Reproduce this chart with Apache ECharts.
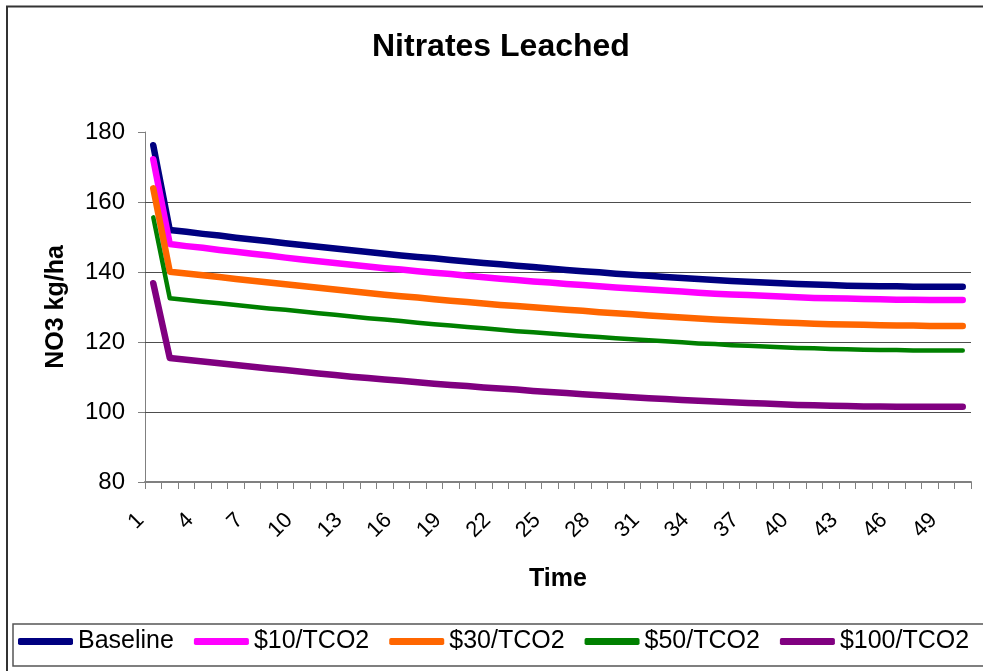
<!DOCTYPE html>
<html>
<head>
<meta charset="utf-8">
<script src="https://cdn.jsdelivr.net/npm/echarts@6/dist/echarts.min.js"></script>
<style>
html,body{margin:0;padding:0;background:#fff;overflow:hidden;}
#chart{width:983px;height:671px;}
</style>
</head>
<body>
<div id="chart"></div>
<script>
var categories = [];
for (var i = 1; i <= 50; i++) categories.push(String(i));

var seriesNames = ['Baseline', '$10/TCO2', '$30/TCO2', '$50/TCO2', '$100/TCO2'];

var baseline = [176.2,152.0,151.5,150.9,150.4,149.8,149.3,148.8,148.2,147.7,
  147.2,146.7,146.2,145.7,145.2,144.7,144.3,143.9,143.4,143.0,
  142.6,142.2,141.8,141.4,141.0,140.6,140.2,139.9,139.5,139.2,
  138.9,138.6,138.3,138.0,137.7,137.4,137.2,137.0,136.8,136.6,
  136.4,136.3,136.1,136.0,135.9,135.9,135.8,135.8,135.8,135.8];

var tco2_10 = [172.2,148.0,147.4,146.9,146.3,145.8,145.2,144.7,144.1,143.6,
  143.1,142.6,142.1,141.6,141.1,140.7,140.2,139.8,139.4,138.9,
  138.5,138.1,137.7,137.3,137.0,136.6,136.3,135.9,135.6,135.3,
  135.0,134.7,134.4,134.1,133.8,133.6,133.4,133.2,133.0,132.8,
  132.6,132.5,132.4,132.3,132.2,132.1,132.1,132.0,132.0,132.0];

var tco2_30 = [163.9,140.1,139.6,139.1,138.6,138.0,137.5,137.0,136.5,136.0,
  135.5,135.0,134.5,134.0,133.5,133.1,132.7,132.2,131.8,131.4,
  131.0,130.6,130.3,129.9,129.6,129.2,128.9,128.5,128.2,127.9,
  127.6,127.3,127.0,126.7,126.4,126.2,126.0,125.8,125.6,125.4,
  125.2,125.1,125.0,124.9,124.8,124.7,124.7,124.6,124.6,124.6];

var tco2_50 = [155.6,132.5,132.0,131.5,131.1,130.6,130.1,129.6,129.2,128.7,
  128.2,127.8,127.3,126.8,126.4,126.0,125.5,125.1,124.7,124.3,
  123.9,123.5,123.1,122.8,122.4,122.1,121.7,121.4,121.1,120.8,
  120.5,120.2,119.9,119.6,119.4,119.1,118.9,118.7,118.5,118.3,
  118.2,118.0,117.9,117.8,117.7,117.7,117.6,117.6,117.6,117.6];

var tco2_100 = [136.8,115.4,114.9,114.4,113.9,113.4,112.9,112.4,112.0,111.5,
  111.0,110.6,110.1,109.7,109.3,108.9,108.5,108.1,107.7,107.4,
  107.0,106.7,106.4,106.0,105.7,105.4,105.1,104.8,104.5,104.2,
  103.9,103.7,103.4,103.2,103.0,102.8,102.6,102.4,102.2,102.0,
  101.9,101.8,101.7,101.6,101.6,101.5,101.5,101.5,101.5,101.5];

var gridValues = [100, 120, 140, 160];

var seriesData = [baseline, tco2_10, tco2_30, tco2_50, tco2_100];
var colors = ['#000080', '#FF00FF', '#FF6600', '#008000', '#800080'];
var widths = [6.5, 6.5, 6.5, 4.5, 6.5];

var FONT = '"Liberation Sans", Arial, sans-serif';

var chart = echarts.init(document.getElementById('chart'), null, {renderer: 'canvas'});

var series = seriesNames.map(function (name, k) {
  var s = {
    name: name,
    type: 'line',
    data: seriesData[k],
    symbol: 'none',
    showSymbol: false,
    smooth: false,
    animation: false,
    z: 3 + k,
    lineStyle: {color: colors[k], width: widths[k], cap: 'round', join: 'round'},
    itemStyle: {color: colors[k]}
  };
  if (k === 0) {
    s.markLine = {
      silent: true,
      animation: false,
      symbol: ['none', 'none'],
      label: {show: false},
      lineStyle: {color: '#4d4d4d', width: 1, type: 'solid'},
      emphasis: {disabled: true},
      data: gridValues.map(function (v) { return {yAxis: v}; }),
      z: 1
    };
  }
  return s;
});

chart.setOption({
  backgroundColor: '#ffffff',
  animation: false,
  color: colors,
  title: {
    text: 'Nitrates Leached',
    left: 372,
    top: 31,
    padding: 0,
    textStyle: {fontFamily: FONT, fontSize: 32, fontWeight: 'bold', color: '#000'}
  },
  legend: {
    left: 18,
    top: 629,
    width: 975,
    padding: 0,
    itemWidth: 55,
    itemHeight: 7,
    itemGap: 20,
    icon: 'roundRect',
    textStyle: {fontFamily: FONT, fontSize: 25, color: '#000'},
    data: seriesNames
  },
  grid: {
    left: 145,
    right: 12,
    top: 132,
    bottom: 189,
    containLabel: false,
    outerBoundsMode: 'none'
  },
  xAxis: {
    type: 'category',
    data: categories,
    boundaryGap: true,
    name: 'Time',
    nameLocation: 'middle',
    nameGap: 85,
    nameTextStyle: {fontFamily: FONT, fontSize: 25, fontWeight: 'bold', color: '#000'},
    axisLine: {show: true, lineStyle: {color: '#808080', width: 2}},
    axisTick: {show: true, interval: 0, alignWithLabel: false, length: 7, lineStyle: {color: '#808080', width: 1}},
    axisLabel: {
      interval: 2,
      rotate: 45,
      margin: 22,
      padding: [0, 18, 0, 0],
      fontFamily: FONT,
      fontSize: 22,
      color: '#000'
    },
    splitLine: {show: false}
  },
  yAxis: {
    type: 'value',
    min: 80,
    max: 180,
    interval: 20,
    name: 'NO3 kg/ha',
    nameLocation: 'middle',
    nameGap: 76,
    nameTextStyle: {fontFamily: FONT, fontSize: 25, fontWeight: 'bold', color: '#000'},
    axisLine: {show: true, lineStyle: {color: '#808080', width: 1}},
    axisTick: {show: true, length: 7, lineStyle: {color: '#808080', width: 1}},
    axisLabel: {margin: 20, fontFamily: FONT, fontSize: 24, color: '#000'},
    splitLine: {show: false}
  },
  graphic: [
    {
      type: 'polyline',
      silent: true,
      shape: {points: [[7, 700], [7, 6.5], [1000, 6.5]]},
      style: {fill: null, stroke: '#333', lineWidth: 2},
      z: 0
    },
    {
      type: 'polyline',
      silent: true,
      shape: {points: [[1000, 624], [13, 624], [13, 666], [1000, 666]]},
      style: {fill: null, stroke: '#555', lineWidth: 1.5},
      z: 0
    }
  ],
  series: series
});
</script>
</body>
</html>
